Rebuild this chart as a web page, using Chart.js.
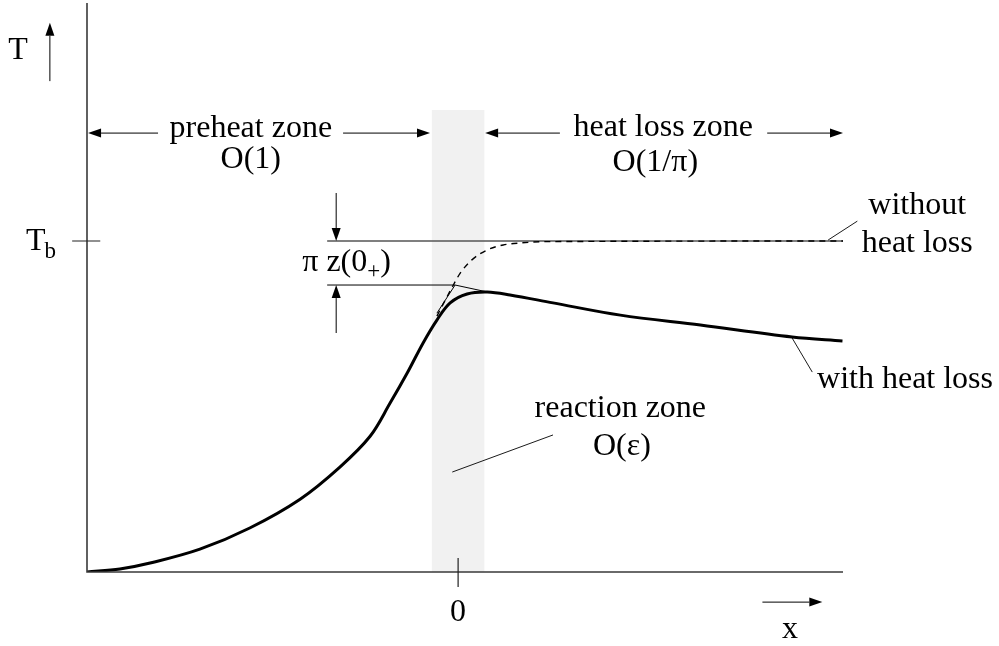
<!DOCTYPE html>
<html>
<head>
<meta charset="utf-8">
<script src="https://cdn.jsdelivr.net/npm/chart.js@4.4.1/dist/chart.umd.min.js"></script>
<style>
  html, body { margin: 0; padding: 0; background: #fff; }
  #wrap { width: 999px; height: 646px; }
</style>
</head>
<body>
<div id="wrap"><canvas id="myChart" width="999" height="646"></canvas></div>
<script>
// axis ranges (x: 0 at the reaction zone, T: 1 at T_b)
const xMin = -7, xMax = 7.26;
const tMin = 0, tMax = 1.719;

// temperature with heat loss (thick solid curve)
const withLossX = [-7, -6.38, -5.81, -4.87, -3.93, -2.98, -2.23, -1.66, -1.28, -0.96, -0.66, -0.4, -0.15, 0.17, 0.55, 0.98, 1.79, 3.06, 4.57, 6.3, 7.25];
const withLossT = [0, 0.009, 0.027, 0.069, 0.133, 0.22, 0.317, 0.41, 0.511, 0.601, 0.692, 0.761, 0.813, 0.84, 0.846, 0.837, 0.813, 0.776, 0.746, 0.71, 0.698];

// temperature without heat loss (dashed curve)
const noLossX = [-0.4, -0.09, 0.04, 0.26, 0.55, 0.85, 1.17, 1.64, 7.26];
const noLossT = [0.773, 0.867, 0.903, 0.943, 0.973, 0.988, 0.994, 0.998, 1.0];

// reaction zone band
const bandX = [-0.5, 0.5];
const bandTop = 1.396;

// thin construction lines
const tbLineX = [-2.47, 7.26];
const tbLineT = [1, 1];
const peakLineX = [-2.47, -0.057, 0.55];
const peakLineT = [0.867, 0.867, 0.846];
const tangentX = [-0.4, -0.057];
const tangentT = [0.782, 0.867];

// arrows [x1, t1, x2, t2], head at the second point
const arrows = [
  [-5.66, 1.326, -6.98, 1.326],
  [-2.17, 1.326, -0.53, 1.326],
  [1.92, 1.326, 0.51, 1.326],
  [5.83, 1.326, 7.26, 1.326],
  [-2.3, 1.145, -2.3, 1.0],
  [-2.3, 0.722, -2.3, 0.867],
  [-7.7, 1.483, -7.7, 1.659],
  [5.74, -0.091, 6.87, -0.091]
];

// leader lines [x1, t1, x2, t2]
const leaders = [
  [6.98, 1.003, 7.53, 1.06],
  [6.3, 0.707, 6.68, 0.604],
  [-0.11, 0.302, 1.79, 0.414]
];

// labels [text, x, t]
const labels = [
  ["preheat zone", -3.91, 1.341],
  ["O(1)", -3.91, 1.245],
  ["heat loss zone", 3.87, 1.344],
  ["O(1/\u03c0)", 3.72, 1.236],
  ["without", 8.66, 1.106],
  ["heat loss", 8.66, 0.991],
  ["with heat loss", 8.43, 0.58],
  ["reaction zone", 3.06, 0.495],
  ["O(\u03b5)", 3.09, 0.378],
  ["0", 0, -0.124],
  ["x", 6.26, -0.175],
  ["T", -8.3, 1.574]
];

const FONT = '"Liberation Serif", "DejaVu Serif", serif';
const toPts = (xs, ts) => xs.map((x, i) => ({ x: x, y: ts[i] }));

const sketch = {
  id: "sketch",
  afterDatasetsDraw(chart) {
    const ctx = chart.ctx;
    const sx = chart.scales.x, sy = chart.scales.y;
    const px = (v) => sx.getPixelForValue(v);
    const py = (v) => sy.getPixelForValue(v);
    ctx.save();

    // axes
    ctx.strokeStyle = "#3a3a3a";
    ctx.lineWidth = 1.6;
    ctx.beginPath();
    ctx.moveTo(px(xMin), py(tMax));
    ctx.lineTo(px(xMin), py(tMin));
    ctx.lineTo(px(xMax), py(tMin));
    ctx.stroke();

    // ticks
    ctx.lineWidth = 1.2;
    ctx.strokeStyle = "#222";
    ctx.beginPath();
    ctx.moveTo(px(-7.28), py(1));
    ctx.lineTo(px(-6.75), py(1));
    ctx.moveTo(px(0), py(0.042));
    ctx.lineTo(px(0), py(-0.045));
    ctx.stroke();

    // arrows
    ctx.fillStyle = "#000";
    ctx.strokeStyle = "#000";
    ctx.lineWidth = 1;
    arrows.forEach(([x1, t1, x2, t2]) => {
      const a = px(x1), b = py(t1), c = px(x2), d = py(t2);
      const ang = Math.atan2(d - b, c - a);
      const L = 13, W = 4.5;
      ctx.beginPath();
      ctx.moveTo(a, b);
      ctx.lineTo(c - Math.cos(ang) * L, d - Math.sin(ang) * L);
      ctx.stroke();
      ctx.beginPath();
      ctx.moveTo(c, d);
      ctx.lineTo(c - Math.cos(ang) * L - Math.sin(ang) * W, d - Math.sin(ang) * L + Math.cos(ang) * W);
      ctx.lineTo(c - Math.cos(ang) * L + Math.sin(ang) * W, d - Math.sin(ang) * L - Math.cos(ang) * W);
      ctx.closePath();
      ctx.fill();
    });

    // leaders
    ctx.lineWidth = 0.9;
    leaders.forEach(([x1, t1, x2, t2]) => {
      ctx.beginPath();
      ctx.moveTo(px(x1), py(t1));
      ctx.lineTo(px(x2), py(t2));
      ctx.stroke();
    });

    // labels
    ctx.font = "32px " + FONT;
    ctx.textAlign = "center";
    ctx.textBaseline = "middle";
    labels.forEach(([s, x, t]) => ctx.fillText(s, px(x), py(t)));

    // T_b
    ctx.textAlign = "left";
    ctx.textBaseline = "alphabetic";
    ctx.font = "32px " + FONT;
    let x0 = px(-8.15), y0 = py(0.973);
    ctx.fillText("T", x0, y0);
    x0 += ctx.measureText("T").width - 1;
    ctx.font = "23px " + FONT;
    ctx.fillText("b", x0, y0 + 8);

    // pi z(0+)
    ctx.font = "32px " + FONT;
    x0 = px(-2.94); y0 = py(0.909);
    ctx.fillText("\u03c0 z(0", x0, y0);
    x0 += ctx.measureText("\u03c0 z(0").width;
    ctx.font = "23px " + FONT;
    ctx.fillText("+", x0, y0 + 7);
    x0 += ctx.measureText("+").width;
    ctx.font = "32px " + FONT;
    ctx.fillText(")", x0, y0);

    ctx.restore();
  }
};

const config = {
  type: "scatter",
  data: {
    datasets: [
      {
        label: "reaction zone",
        data: toPts(bandX, [bandTop, bandTop]),
        showLine: true,
        borderWidth: 0,
        borderColor: "rgba(0,0,0,0)",
        backgroundColor: "#f1f1f1",
        fill: "origin",
        pointRadius: 0,
        order: 5,
      },
      {
        label: "T_b",
        data: toPts(tbLineX, tbLineT),
        showLine: true,
        borderColor: "#555",
        borderWidth: 1.3,
        pointRadius: 0,
        order: 4,
      },
      {
        label: "peak",
        data: toPts(peakLineX, peakLineT),
        showLine: true,
        borderColor: "#000",
        borderWidth: 1,
        pointRadius: 0,
        order: 3,
      },
      {
        label: "tangent",
        data: toPts(tangentX, tangentT),
        showLine: true,
        borderColor: "#000",
        borderWidth: 1,
        pointRadius: 0,
        order: 3,
      },
      {
        label: "without heat loss",
        data: toPts(noLossX, noLossT),
        showLine: true,
        borderColor: "#000",
        borderWidth: 1.4,
        borderDash: [6, 5],
        cubicInterpolationMode: "monotone",
        pointRadius: 0,
        order: 2,
      },
      {
        label: "with heat loss",
        data: toPts(withLossX, withLossT),
        showLine: true,
        borderColor: "#000",
        borderWidth: 3,
        tension: 0.35,
        pointRadius: 0,
        order: 1,
      },
    ],
  },
  options: {
    responsive: false,
    animation: false,
    layout: { padding: { left: 87, right: 156, top: 3, bottom: 74 } },
    plugins: { legend: { display: false }, tooltip: { enabled: false } },
    scales: {
      x: { type: "linear", min: xMin, max: xMax, display: false },
      y: { type: "linear", min: tMin, max: tMax, display: false },
    },
  },
  plugins: [sketch],
};

var myChart = new Chart(document.getElementById("myChart"), config);
</script>
</body>
</html>
